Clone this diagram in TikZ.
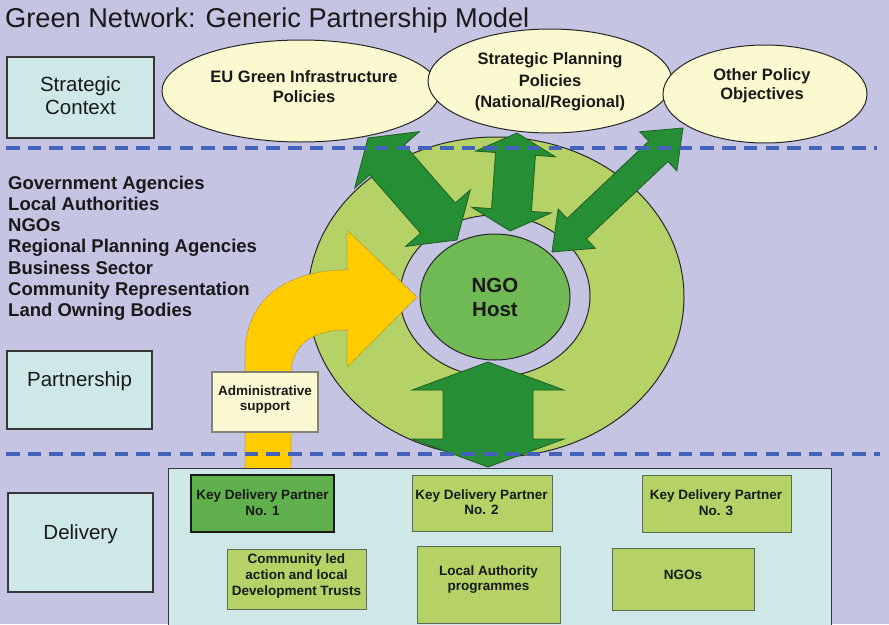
\documentclass[tikz,border=0pt]{standalone}
\usepackage{fontspec}
\setmainfont{Liberation Sans}
\usetikzlibrary{shapes.geometric,calc}
\definecolor{bgl}{RGB}{197,196,226}
\definecolor{cyanbox}{RGB}{206,232,232}
\definecolor{ylw}{RGB}{250,249,208}
\definecolor{admfill}{RGB}{250,248,210}
\definecolor{lgreen}{RGB}{180,210,102}
\definecolor{dgreen}{RGB}{38,142,52}
\definecolor{dgline}{RGB}{30,95,35}
\definecolor{hostg}{RGB}{112,186,86}
\definecolor{kdpone}{RGB}{96,176,78}
\definecolor{dashblue}{RGB}{68,98,186}
\definecolor{yarrow}{RGB}{255,204,0}
\definecolor{ydot}{RGB}{150,120,60}
\definecolor{txt}{RGB}{25,25,25}
\definecolor{lblline}{RGB}{55,55,55}
\definecolor{gline}{RGB}{95,105,85}
\tikzset{
  lblbox/.style={draw=lblline, line width=1.4pt, fill=cyanbox, inner sep=0pt},
  lbltxt/.style={font=\fontsize{20.5}{23.5}\selectfont, text=txt, align=center, inner sep=0pt},
  poly/.style={ellipse, draw=black!85, line width=1pt, fill=ylw, inner sep=0pt},
  polytxt/.style={font=\fontsize{16.5}{20}\selectfont\bfseries, text=txt, align=center, inner sep=0pt},
  listtxt/.style={font=\fontsize{18.5}{21}\selectfont\bfseries, text=txt, anchor=base west, inner sep=0pt},
  gbox/.style={draw=gline, line width=1pt, fill=lgreen, inner sep=0pt},
  smalltxt/.style={font=\fontsize{13.5}{15.5}\selectfont\bfseries, text=txt, align=center, inner sep=0pt},
  garrow/.style={fill=dgreen, draw=dgline, line width=0.8pt, line join=miter},
  yarr/.style={fill=yarrow, draw=ydot, line width=0.7pt, densely dotted},
  ringst/.style={fill=lgreen, draw=black!85, line width=1pt, even odd rule},
  sepline/.style={draw=dashblue, line width=4pt, dash pattern=on 13.5pt off 8.2pt},
}
% double-headed block arrow: from, to, shaft half width, head half width, head length
\newcommand\dblarr[5]{%
  \draw[garrow] (#1)
    -- ($(#1)!#5!(#2)!#4!90:(#2)$)
    -- ($(#1)!#5!(#2)!#3!90:(#2)$)
    -- ($(#2)!#5!(#1)!#3!-90:(#1)$)
    -- ($(#2)!#5!(#1)!#4!-90:(#1)$)
    -- (#2)
    -- ($(#2)!#5!(#1)!#4!90:(#1)$)
    -- ($(#2)!#5!(#1)!#3!90:(#1)$)
    -- ($(#1)!#5!(#2)!#3!-90:(#2)$)
    -- ($(#1)!#5!(#2)!#4!-90:(#2)$)
    -- cycle;}
\begin{document}
\begin{tikzpicture}[x=1pt,y=-1pt]
\useasboundingbox (0,0) rectangle (889,624);
\clip (0,0) rectangle (889,624);
\fill[bgl] (0,0) rectangle (889,624);

% title
\node[font=\fontsize{27.2}{30}\selectfont, text=txt, anchor=base west, inner sep=0pt] (title) at (5,27) {Green Network: Generic Partnership Model};

% row labels
\node[lblbox, minimum width=147pt, minimum height=81pt] (sc) at (80.5,97.5) {};
\node[lbltxt] (scT) at (80.5,95.5) {Strategic\\Context};
\node[lblbox, minimum width=145pt, minimum height=78pt] (pa) at (79.5,390) {};
\node[lbltxt] (paT) at (79.5,381) {Partnership};
\node[lblbox, minimum width=145pt, minimum height=99pt] (de) at (80.5,542.5) {};
\node[lbltxt] (deT) at (80.5,534) {Delivery};

% partner list
\node[listtxt] (l1) at (8,189) {Government Agencies};
\node[listtxt] (l2) at (8,210.3) {Local Authorities};
\node[listtxt] (l3) at (8,231.6) {NGOs};
\node[listtxt] (l4) at (8,252.9) {Regional Planning Agencies};
\node[listtxt] (l5) at (8,274.2) {Business Sector};
\node[listtxt] (l6) at (8,295.5) {Community Representation};
\node[listtxt] (l7) at (8,316.8) {Land Owning Bodies};

% policy ellipses
\node[poly, minimum width=278pt, minimum height=102pt] (eu) at (301,91) {};
\node[poly, minimum width=244pt, minimum height=104pt] (sp) at (550,81) {};
\node[poly, minimum width=204pt, minimum height=98pt] (oth) at (765,94) {};
\node[polytxt] (euT) at (304,87) {EU Green Infrastructure\\Policies};
\node[polytxt, font=\fontsize{16.5}{21.5}\selectfont\bfseries] (spT) at (550,82) {Strategic Planning\\Policies\\(National/Regional)};
\node[polytxt, font=\fontsize{16.5}{19}\selectfont\bfseries] (othT) at (762,86) {Other Policy\\Objectives};

% ring and host
\draw[ringst] (496,297) ellipse [x radius=188, y radius=160] (495,296) ellipse [x radius=95, y radius=81];
\node[ellipse, draw=black!85, line width=1pt, fill=hostg, minimum width=150pt, minimum height=126pt, inner sep=0pt, font=\fontsize{20.5}{24}\selectfont\bfseries, align=center, text=txt] (host) at (495,297) {NGO\\Host};

% yellow administrative arrow
\draw[yarr] (245,478) -- (245,355) .. controls (245,300) and (285,270) .. (347,270)
  -- (347,230) -- (417,297) -- (347,367) -- (347,330)
  .. controls (312,330) and (291,345) .. (291,375) -- (291,478) -- cycle;

% green double arrows
\coordinate (a1) at (368,138); \coordinate (a2) at (457,240);
\coordinate (b1) at (517,133); \coordinate (b2) at (510,231);
\coordinate (c1) at (683,128); \coordinate (c2) at (552,252);
\coordinate (d1) at (488,362); \coordinate (d2) at (488,467);
\dblarr{a1}{a2}{23pt}{43pt}{29pt}
\dblarr{b1}{b2}{20pt}{40pt}{21pt}
\dblarr{c1}{c2}{14pt}{27pt}{34pt}
\dblarr{d1}{d2}{45pt}{76pt}{28pt}

% admin box
\node[draw={rgb,255:red,130;green,130;blue,120}, line width=1.2pt, fill=admfill, minimum width=106pt, minimum height=60pt, inner sep=0pt] (adm) at (265,402) {};
\node[smalltxt, font=\fontsize{13.5}{15}\selectfont\bfseries] (admT) at (265,399.5) {Administrative\\support};

% delivery container
\node[draw=lblline, line width=1.4pt, fill=cyanbox, minimum width=663pt, minimum height=172pt, anchor=north west, inner sep=0pt] (cont) at (168,468) {};
\node[gbox, fill=kdpone, draw=black!90, line width=1.8pt, minimum width=143pt, minimum height=57pt] (k1) at (262.5,503.5) {};
\node[smalltxt] (k1T) at (262.5,502.5) {Key Delivery Partner\\No. 1};
\node[gbox, minimum width=140pt, minimum height=56pt] (k2) at (482,503) {};
\node[smalltxt] (k2T) at (481.5,502) {Key Delivery Partner\\No. 2};
\node[gbox, minimum width=149pt, minimum height=57pt] (k3) at (716.5,503.5) {};
\node[smalltxt] (k3T) at (716,502.5) {Key Delivery Partner\\No. 3};
\node[gbox, minimum width=139pt, minimum height=60pt] (cm) at (296.5,579) {};
\node[smalltxt, font=\fontsize{13.5}{16}\selectfont\bfseries] (cmT) at (296.5,576) {Community led\\action and local\\Development Trusts};
\node[gbox, minimum width=143pt, minimum height=77pt] (la) at (488.5,584.5) {};
\node[smalltxt] (laT) at (488.5,579.5) {Local Authority\\programmes};
\node[gbox, minimum width=142pt, minimum height=62pt] (ng) at (683,579) {};
\node[smalltxt] (ngT) at (683,575) {NGOs};

% dashed separators
\draw[sepline] (6,147.5) -- (877,147.5);
\draw[sepline] (6,454) -- (880,454);
\end{tikzpicture}
\end{document}
